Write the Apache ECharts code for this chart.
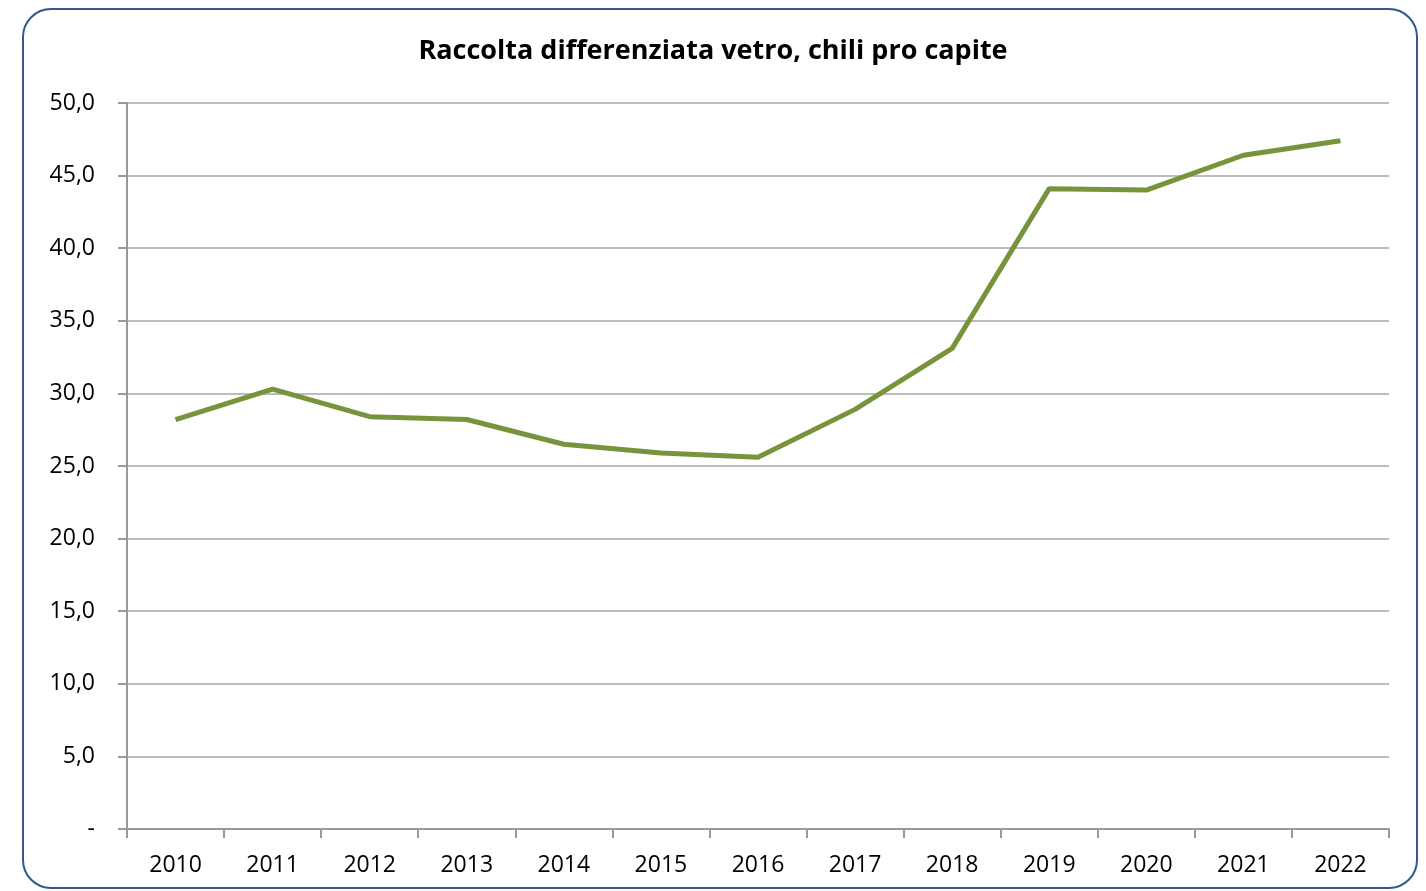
<!DOCTYPE html>
<html><head><meta charset="utf-8">
<script src="https://cdn.jsdelivr.net/npm/echarts@6/dist/echarts.min.js"></script>
<style>html,body{margin:0;padding:0;background:#fff}#c{width:1426px;height:891px}</style>
</head><body><div id="c"></div>
<script>
const titleText = "Raccolta differenziata vetro, chili pro capite";
const years = ["2010","2011","2012","2013","2014","2015","2016","2017","2018","2019","2020","2021","2022"];
const values = [28.2, 30.3, 28.4, 28.2, 26.5, 25.9, 25.6, 28.9, 33.1, 44.1, 44.0, 46.4, 47.4];

const chart = echarts.init(document.getElementById('c'), null, {renderer:'canvas'});
const font = "'Open Sans', 'Liberation Sans', sans-serif";
chart.setOption({
  animation:false,
  title:{text:titleText,left:'center',top:33,textStyle:{fontFamily:font,fontSize:27,fontWeight:'bold',color:'#000'}},
  graphic:[{type:'rect',shape:{x:23,y:9,width:1394,height:879,r:28},style:{fill:'none',stroke:'#2F5A8C',lineWidth:2},silent:true,z:-1}],
  grid:{left:127,right:37,top:103,bottom:62,containLabel:false},
  xAxis:{type:'category',data:years,boundaryGap:true,
    axisLine:{lineStyle:{color:'#999',width:2}},
    axisTick:{show:true,length:9,lineStyle:{color:'#999',width:2}},
    axisLabel:{margin:25,color:'#000',fontFamily:font,fontSize:23},
    splitLine:{show:false}},
  yAxis:{type:'value',min:0,max:50,interval:5,
    axisLine:{show:true,lineStyle:{color:'#999',width:2}},
    axisTick:{show:true,length:9,lineStyle:{color:'#999',width:2}},
    axisLabel:{margin:32,color:'#000',fontFamily:font,fontSize:23,
      formatter:v=> v===0 ? '-' : v.toFixed(1).replace('.',',')},
    splitLine:{show:true,lineStyle:{color:'#A6A6A6',width:1.5}}},
  series:[{type:'line',data:values,symbol:'none',lineStyle:{color:'#77933C',width:5},itemStyle:{color:'#77933C'}}]
});
</script></body></html>
